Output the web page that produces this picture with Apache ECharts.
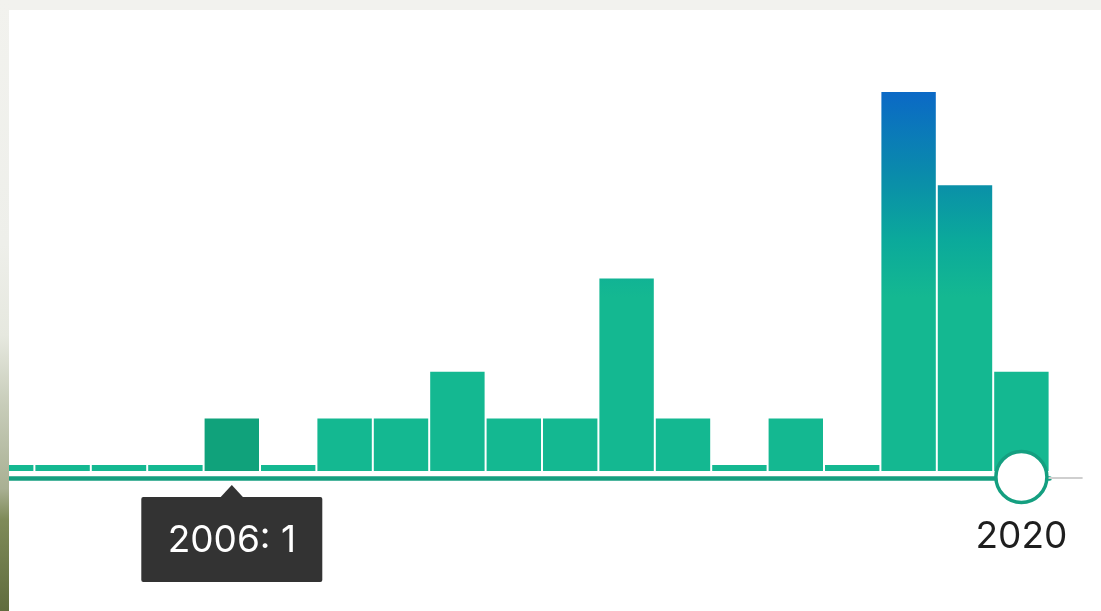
<!DOCTYPE html>
<html>
<head>
<meta charset="utf-8">
<script src="https://cdn.jsdelivr.net/npm/echarts@6/dist/echarts.min.js"></script>
<style>
  html, body { margin: 0; padding: 0; width: 1101px; height: 611px; overflow: hidden; background: #f2f2ee; }
  #edge {
    position: absolute; left: 0; top: 0; width: 9px; height: 611px;
    background: linear-gradient(to bottom, #f2f2ee 0%, #eeefea 40%, #e6e8df 55%, #c8cdba 66%, #a9b093 80%, #7f8b59 85%, #606c3d 100%);
  }
  #card { position: absolute; left: 9px; top: 10px; width: 1092px; height: 601px; background: #fff; overflow: hidden; }
  #chart { position: absolute; left: -49px; top: -10px; width: 1141px; height: 611px; }
</style>
</head>
<body>
<div id="edge"></div>
<div id="card"><div id="chart"></div></div>
<script>
// Citations per year
const years = ['2002', '2003', '2004', '2005', '2006', '2007', '2008', '2009', '2010', '2011',
               '2012', '2013', '2014', '2015', '2016', '2017', '2018', '2019', '2020'];
const citations = [0, 0, 0, 0, 1, 0, 1, 1, 2, 1, 1, 4, 1, 0, 1, 0, 8, 6, 2];
const focusYear = '2006';   // year shown in the hover tip
const handleYear = '2020';  // year under the slider handle

const Y_MIN = -0.128;
const Y_MAX = 8;
const GREEN = '#14b891';
const GREEN_DARK = '#10a27b';
const AXIS_GREEN = '#149f80';
const FONT = 'Inter, "Liberation Sans", sans-serif';

const chart = echarts.init(document.getElementById('chart'), null, { renderer: 'canvas' });

function renderBar(params, api) {
  const idx = api.value(0);
  const val = api.value(1);
  const top = api.coord([idx, val]);
  const base = api.coord([idx, Y_MIN]);
  const band = api.size([1, 0])[0];
  const w = band - 2;
  let fill;
  if (years[idx] === focusYear) {
    fill = GREEN_DARK;
  } else {
    const yHi = api.coord([idx, Y_MAX])[1];
    const yLo = api.coord([idx, 3.6])[1];
    fill = new echarts.graphic.LinearGradient(0, yHi, 0, yLo, [
      { offset: 0, color: '#0b69c6' },
      { offset: 0.42, color: '#0a8daa' },
      { offset: 0.72, color: '#0ba99b' },
      { offset: 1, color: GREEN }
    ], true);
  }
  return {
    type: 'rect',
    shape: { x: top[0] - w / 2, y: top[1], width: w, height: base[1] - top[1] },
    style: { fill: fill }
  };
}

chart.setOption({
  animation: false,
  grid: { left: 18, right: 51.4, top: 92, bottom: 140 },
  xAxis: {
    type: 'category',
    data: years,
    offset: 7,
    axisLine: { onZero: false, lineStyle: { color: AXIS_GREEN, width: 4.5 } },
    axisTick: { show: false },
    axisLabel: {
      margin: 40,
      fontSize: 37,
      fontFamily: FONT,
      color: '#1e1e1e',
      interval: 0,
      formatter: v => (v === handleYear ? v : '')
    },
    splitLine: { show: false }
  },
  yAxis: {
    type: 'value',
    min: Y_MIN,
    max: Y_MAX,
    show: false,
    splitLine: { show: false }
  },
  series: [{
    type: 'custom',
    renderItem: renderBar,
    encode: { x: 0, y: 1 },
    data: years.map((y, i) => [i, citations[i]])
  }]
});

// Hover tip and slider handle, placed from the axis scales
const fi = years.indexOf(focusYear);
const hi = years.indexOf(handleYear);
const fx = chart.convertToPixel({ xAxisIndex: 0 }, years[fi]);
const hx = chart.convertToPixel({ xAxisIndex: 0 }, years[hi]);
const baseY = chart.convertToPixel({ yAxisIndex: 0 }, Y_MIN);
const axisY = baseY + 7;
const band = chart.convertToPixel({ xAxisIndex: 0 }, years[1]) - chart.convertToPixel({ xAxisIndex: 0 }, years[0]);
const gridRight = hx + band / 2;

const tipTop = baseY + 26;
const tipW = 181, tipH = 85;

chart.setOption({
  graphic: [
    {
      type: 'line', z: 90,
      shape: { x1: gridRight - 4, y1: axisY, x2: gridRight + 33, y2: axisY },
      style: { stroke: '#cfcfcf', lineWidth: 2 }
    },
    {
      type: 'circle', z: 100,
      shape: { cx: hx, cy: axisY - 1, r: 25.5 },
      style: { fill: '#ffffff', stroke: AXIS_GREEN, lineWidth: 3.5 }
    },
    {
      type: 'polygon', z: 100,
      shape: { points: [[fx - 12, tipTop + 1], [fx, tipTop - 12], [fx + 12, tipTop + 1]] },
      style: { fill: '#333333' }
    },
    {
      type: 'rect', z: 100,
      shape: { x: fx - tipW / 2, y: tipTop, width: tipW, height: tipH, r: 2 },
      style: { fill: '#333333' }
    },
    {
      type: 'text', z: 101,
      x: fx, y: tipTop + tipH / 2 + 1,
      style: {
        text: focusYear + ': ' + citations[fi],
        fill: '#ffffff',
        font: '37px ' + FONT,
        align: 'center',
        verticalAlign: 'middle'
      }
    }
  ]
});
</script>
</body>
</html>
